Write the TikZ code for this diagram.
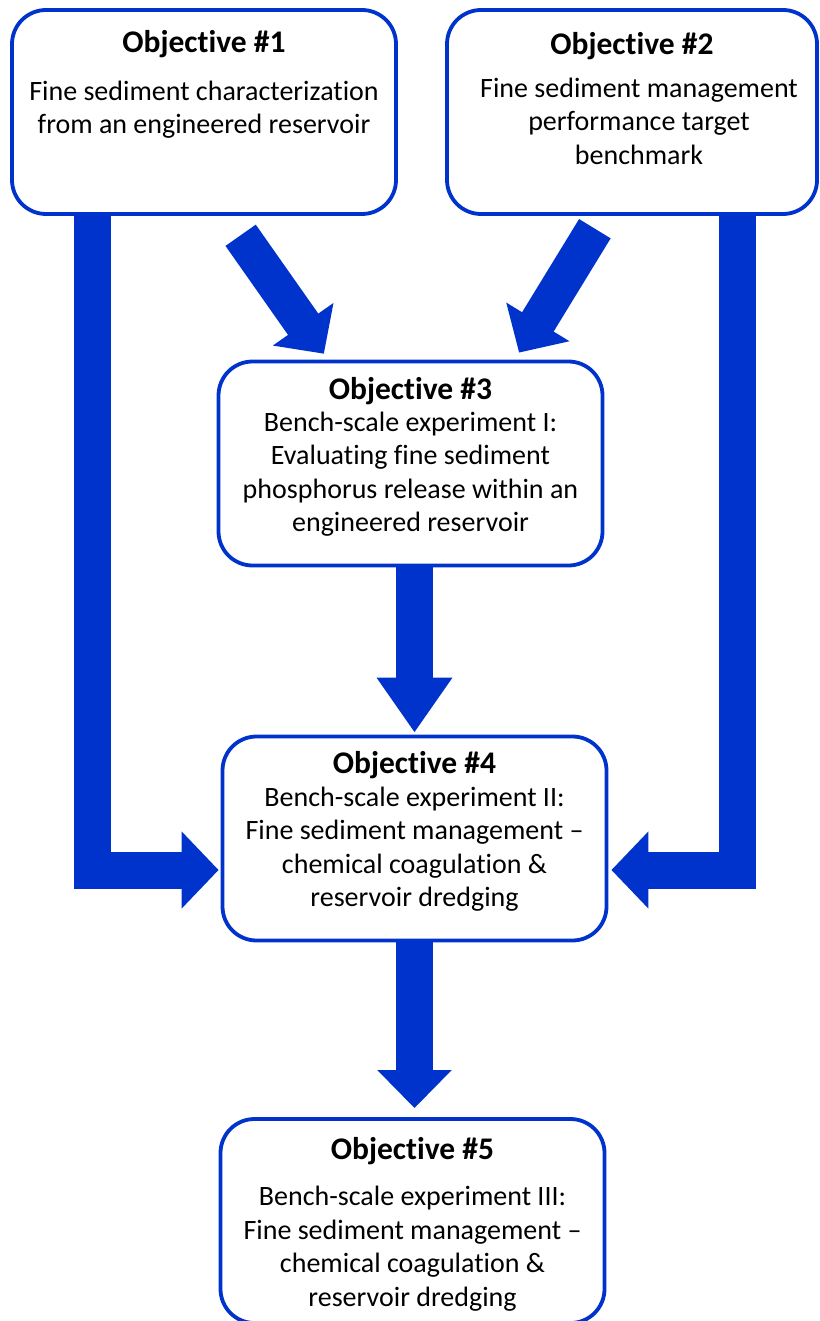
\documentclass[tikz,border=0pt]{standalone}
\usepackage{fontspec}
\setmainfont{Carlito}[Ligatures=NoCommon]
\usetikzlibrary{arrows.meta, positioning, calc}

\definecolor{objblue}{RGB}{0,51,204}

% #1 number, #2 title baseline, #3 extra gap, #4 description
\newcommand{\objtext}[4]{%
  \begin{minipage}[t][204pt][t]{370pt}\centering
    {\fontsize{31.5}{36}\selectfont\bfseries\rule{0pt}{#2}Objective \##1\par}
    \vspace{#3}
    {\fontsize{28}{33.5}\selectfont #4\par}
  \end{minipage}}

\begin{document}
\begin{tikzpicture}[x=1pt, y=-1pt]

        % Define styles
        \tikzstyle{objbox} = [rectangle, rounded corners=34pt, draw=objblue, line width=3.8pt, fill=white, inner sep=0pt, minimum width=384pt, minimum height=204pt, text centered]
        \tikzstyle{bigarrow} = [draw=objblue, line width=37pt]

        \clip (0,0) rectangle (819,1321);
        \useasboundingbox (0,0) rectangle (819,1321);

        % Nodes
        \node (obj1) [objbox] at (204,112) {\objtext{1}{43pt}{14pt}{Fine sediment characterization\\from an engineered reservoir}};
        \node (obj2) [objbox, minimum width=370pt] at (632,112) {\objtext{2}{45pt}{9pt}{\hspace*{14pt}Fine sediment management\\\hspace*{14pt}performance target\\\hspace*{14pt}benchmark}};
        \node (obj3) [objbox] at (410.5,463.5) {\objtext{3}{38pt}{-2pt}{Bench-scale experiment I:\\Evaluating fine sediment\\phosphorus release within an\\engineered reservoir}};
        \node (obj4) [objbox] at (414.5,838.5) {\objtext{4}{37pt}{-1pt}{Bench-scale experiment II:\\Fine sediment management --\\chemical coagulation \&\\reservoir dredging}};
        \node (obj5) [objbox] at (412.5,1221) {\objtext{5}{40pt}{13pt}{Bench-scale experiment III:\\Fine sediment management --\\chemical coagulation \&\\reservoir dredging}};

        % Arrows
        \draw [bigarrow, -{Triangle[length=36pt, width=72pt]}, shorten <=23.7pt, shorten >=7.2pt] ([xshift=23pt]obj1.south) -- ([xshift=-82.5pt]obj3.north);
        \draw [bigarrow, -{Triangle[length=36pt, width=72pt]}, shorten <=15pt, shorten >=8.2pt] ([xshift=-29.3pt]obj2.south) -- ([xshift=104.3pt]obj3.north);
        \draw [bigarrow, -{Triangle[length=55pt, width=72pt]}, shorten >=2pt] (obj4.north |- obj3.south) -- (obj4.north);
        \draw [bigarrow, -{Triangle[length=38pt, width=72pt]}, shorten >=9pt] (obj4.south) -- (obj4.south |- obj5.north);

        % Side connections into objective 4
        \draw [bigarrow, -{Triangle[length=37pt, width=75pt]}, shorten >=2pt] ([xshift=-111.5pt]obj1.south) |- ([yshift=-31.5pt]obj4.west);
        \draw [bigarrow, -{Triangle[length=37pt, width=75pt]}, shorten >=3pt] ([xshift=105pt]obj2.south) |- ([yshift=-31.5pt]obj4.east);

\end{tikzpicture}
\end{document}
